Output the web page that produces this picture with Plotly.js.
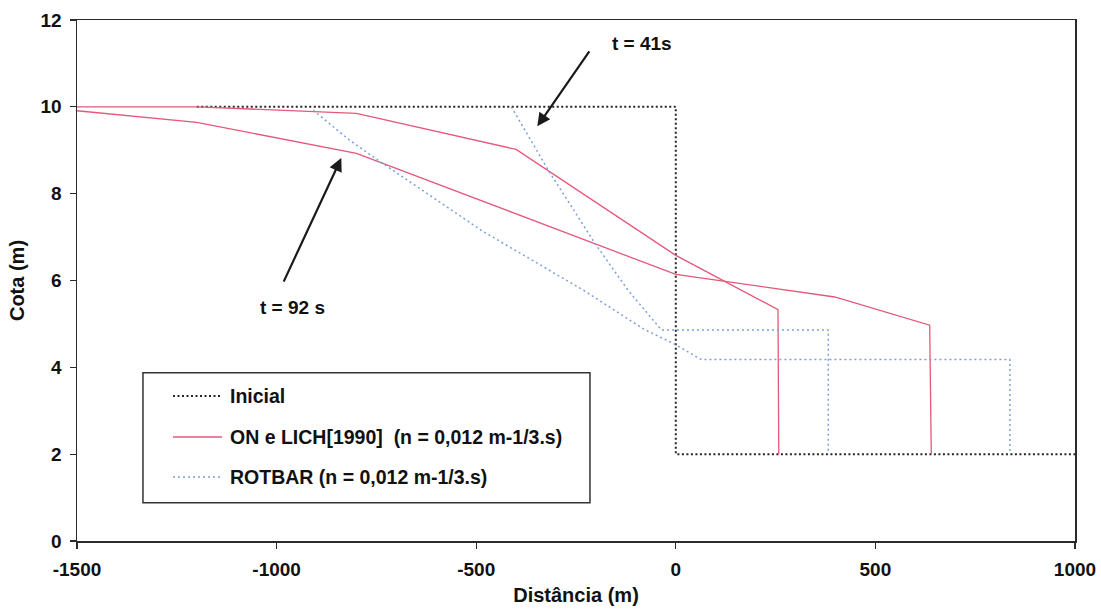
<!DOCTYPE html>
<html>
<head>
<meta charset="utf-8">
<script src="https://cdn.plot.ly/plotly-3.0.1.min.js"></script>
<style>
  html, body { margin: 0; padding: 0; background: #fff; }
  #chart { width: 1101px; height: 609px; }
</style>
</head>
<body>
<div id="chart"></div>
<script>
// Initial water surface (dam-break profile)
const inicialX = [-1200, 0, 0, 1000];
const inicialY = [10, 10, 2, 2];

// ON e LICH [1990] profiles at t = 41 s and t = 92 s
const onLich41X = [-1500, -1200, -800, -400, 0, 256, 258];
const onLich41Y = [10, 10, 9.85, 9.02, 6.58, 5.33, 2];
const onLich92X = [-1500, -1200, -800, 0, 398, 636, 640];
const onLich92Y = [9.91, 9.64, 8.93, 6.14, 5.62, 4.97, 2];

// ROTBAR profiles at t = 41 s and t = 92 s
const rotbar41X = [-412, -320, -203, -120, -36, 382, 382];
const rotbar41Y = [10, 8.55, 6.86, 5.78, 4.86, 4.86, 2];
const rotbar92X = [-908, -817, -733, -483, -232, -82, 0, 64, 837, 837];
const rotbar92Y = [9.92, 9.23, 8.69, 7.13, 5.78, 4.89, 4.52, 4.18, 4.18, 2];

const xTicks = [-1500, -1000, -500, 0, 500, 1000];
const yTicks = [0, 2, 4, 6, 8, 10, 12];

const seriesNames = [
  'Inicial',
  'ON e LICH[1990]&nbsp;&nbsp;(n = 0,012 m-1/3.s)',
  'ROTBAR (n = 0,012 m-1/3.s)'
];

const FONT = '"Liberation Sans", Arial, Helvetica, sans-serif';
const AXIS_COLOR = '#2b2b2b';

const styles = [
  { color: '#262626', width: 2, dash: '2px,2.5px' },
  { color: '#e4587a', width: 1.3, dash: 'solid' },
  { color: '#7d9fdc', width: 1.5, dash: '2px,3px' }
];

// join two profiles into one trace, separated by a gap
function joined(a, b) { return a.concat([null], b); }

const traces = [
  { x: inicialX, y: inicialY, mode: 'lines', name: seriesNames[0], line: styles[0] },
  { x: joined(onLich41X, onLich92X), y: joined(onLich41Y, onLich92Y),
    mode: 'lines', name: seriesNames[1], connectgaps: false, line: styles[1] },
  { x: joined(rotbar41X, rotbar92X), y: joined(rotbar41Y, rotbar92Y),
    mode: 'lines', name: seriesNames[2], connectgaps: false, line: styles[2] }
];

const boldFont = (size) => ({ family: FONT, size: size, color: '#111', weight: 700 });

// key box drawn inside the plot area (paper coordinates)
const key = { x0: 0.0661, x1: 0.514, y0: 0.0735, y1: 0.323,
              lineX0: 0.0962, lineX1: 0.1453, textX: 0.1513,
              rows: [0.2783, 0.1996, 0.1228] };

const shapes = [
  { type: 'rect', xref: 'paper', yref: 'paper', x0: key.x0, x1: key.x1, y0: key.y0, y1: key.y1,
    line: { color: '#333', width: 1.5 }, fillcolor: '#fff', layer: 'above' }
];
const annotations = [];
seriesNames.forEach((name, i) => {
  shapes.push({ type: 'line', xref: 'paper', yref: 'paper',
    x0: key.lineX0, x1: key.lineX1, y0: key.rows[i], y1: key.rows[i],
    line: styles[i], layer: 'above' });
  annotations.push({ xref: 'paper', yref: 'paper', x: key.textX, y: key.rows[i],
    xanchor: 'left', yanchor: 'middle', text: name, showarrow: false, font: boldFont(19.5) });
});

annotations.push(
  { x: -347, y: 9.55, ax: -214, ay: 11.31, axref: 'x', ayref: 'y', text: '',
    showarrow: true, arrowhead: 2, arrowsize: 1.2, arrowwidth: 2.2, arrowcolor: '#1a1a1a' },
  { x: -85, y: 11.47, text: 't = 41s', showarrow: false, font: boldFont(19) },
  { x: -838, y: 8.82, ax: -984, ay: 5.94, axref: 'x', ayref: 'y', text: '',
    showarrow: true, arrowhead: 2, arrowsize: 1.2, arrowwidth: 2.2, arrowcolor: '#1a1a1a' },
  { x: -960, y: 5.37, text: 't = 92 s', showarrow: false, font: boldFont(19) }
);

const layout = {
  width: 1101, height: 609,
  paper_bgcolor: '#fff', plot_bgcolor: '#fff',
  margin: { l: 77, r: 26, t: 20, b: 68 },
  font: { family: FONT, color: '#111' },
  showlegend: false,
  xaxis: {
    range: [-1500, 1000], tickvals: xTicks, ticktext: xTicks.map(String),
    ticks: 'outside', ticklen: 6, tickwidth: 1.3, tickcolor: AXIS_COLOR,
    showline: true, linecolor: AXIS_COLOR, linewidth: 1.5, mirror: true,
    showgrid: false, zeroline: false, tickfont: boldFont(19),
    ticklabelstandoff: 5,
    title: { text: 'Distância (m)', font: boldFont(20), standoff: 8 }
  },
  yaxis: {
    range: [0, 12], tickvals: yTicks, ticktext: yTicks.map(String),
    ticks: 'outside', ticklen: 6, tickwidth: 1.3, tickcolor: AXIS_COLOR,
    showline: true, linecolor: AXIS_COLOR, linewidth: 1.5, mirror: true,
    showgrid: false, zeroline: false, tickfont: boldFont(19),
    ticklabelstandoff: 4,
    title: { text: 'Cota (m)', font: boldFont(20), standoff: 10 }
  },
  // overlaid axes supply the inner half of the crossing tick marks
  xaxis2: {
    overlaying: 'x', anchor: 'y', side: 'bottom', range: [-1500, 1000],
    tickvals: xTicks, ticks: 'inside', ticklen: 5, tickwidth: 1.3, tickcolor: AXIS_COLOR,
    showticklabels: false, showline: false, showgrid: false, zeroline: false
  },
  yaxis2: {
    overlaying: 'y', anchor: 'x', side: 'left', range: [0, 12],
    tickvals: yTicks, ticks: 'inside', ticklen: 5, tickwidth: 1.3, tickcolor: AXIS_COLOR,
    showticklabels: false, showline: false, showgrid: false, zeroline: false
  },
  shapes: shapes,
  annotations: annotations
};

Plotly.newPlot('chart', traces, layout, { staticPlot: true, displayModeBar: false });
</script>
</body>
</html>
